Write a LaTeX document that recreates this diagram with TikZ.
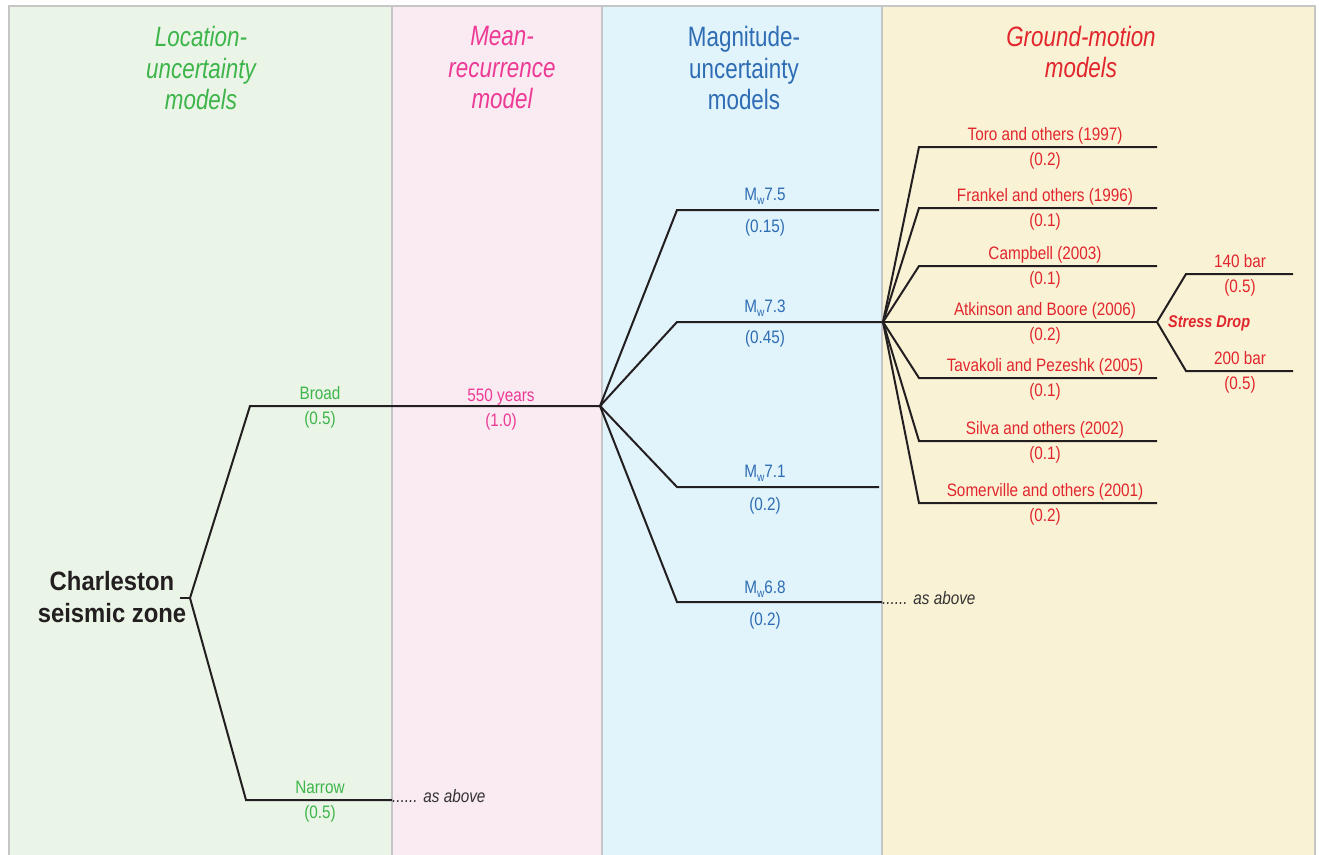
\documentclass[tikz,border=0pt]{standalone}
\usepackage{fontspec}
\setmainfont[FakeStretch=0.85]{Liberation Sans}
\newfontfamily\hdrfont[FakeStretch=0.8]{Liberation Sans}
\newfontfamily\rootfont[FakeStretch=0.9]{Liberation Sans}
\definecolor{pgreen}{HTML}{EBF5E7}
\definecolor{ppink}{HTML}{FAEAF2}
\definecolor{pblue}{HTML}{E1F3FB}
\definecolor{pyellow}{HTML}{FAF2D5}
\definecolor{bordc}{HTML}{C6C6C6}
\definecolor{tgreen}{HTML}{3DB54A}
\definecolor{tpink}{HTML}{EC3A95}
\definecolor{tblue}{HTML}{2E6DB4}
\definecolor{tred}{HTML}{E1262D}
\definecolor{tgray}{HTML}{333333}
\definecolor{linec}{HTML}{231F20}
\newcommand{\Mw}{M\raisebox{-4.5pt}{\fontsize{12}{12}\selectfont w}}
\tikzset{
  border/.style={draw=bordc, line width=2pt},
  tree/.style={draw=linec, line width=2pt, line join=miter},
  hdr/.style={font=\hdrfont\fontsize{28}{31.5}\selectfont, align=center, inner sep=0pt},
  lab/.style={font=\fontsize{18}{20}\selectfont, inner sep=0pt, anchor=base},
  more/.style={font=\fontsize{18}{20}\selectfont\itshape, text=tgray, inner sep=0pt, anchor=base west},
}
\begin{document}
\begin{tikzpicture}[x=1pt,y=-1pt]
\useasboundingbox (0,0) rectangle (1319,854);
\fill[white] (0,0) rectangle (1319,854);
% panels
\fill[pgreen] (9,6) rectangle (392,860);
\fill[ppink] (392,6) rectangle (602,860);
\fill[pblue] (602,6) rectangle (882,860);
\fill[pyellow] (882,6) rectangle (1315,860);
\draw[border] (9,860) -- (9,6) -- (1315,6) -- (1315,860);
\draw[border] (392,6) -- (392,860);
\draw[border] (602,6) -- (602,860);
\draw[border] (882,6) -- (882,860);
% headers
\node[hdr, text=tgreen, font=\hdrfont\fontsize{28}{31.5}\selectfont\itshape] (h1) at (201,68) {Location-\\uncertainty\\models};
\node[hdr, text=tpink, font=\hdrfont\fontsize{28}{31.5}\selectfont\itshape] (h2) at (502,68) {Mean-\\recurrence\\model};
\node[hdr, text=tblue] (h3) at (744,68) {Magnitude-\\uncertainty\\models};
\node[hdr, text=tred, font=\hdrfont\fontsize{28}{31.5}\selectfont\itshape] (h4) at (1081,52) {Ground-motion\\models};
% root
\node[font=\rootfont\fontsize{26.5}{32}\selectfont\bfseries, text=linec, align=center, inner sep=0pt] (root) at (112,597) {Charleston\\seismic zone};
% coordinates
\coordinate (r0) at (190,598);
\coordinate (rt) at (180,598);
\coordinate (bB) at (250,406); \coordinate (bBe) at (392,406);
\coordinate (bN) at (246,800); \coordinate (bNe) at (392,800);
\coordinate (m0) at (600,406);
\coordinate (m1) at (677,210); \coordinate (m1e) at (879,210);
\coordinate (m2) at (677,322); \coordinate (m2e) at (879,322);
\coordinate (m3) at (677,487); \coordinate (m3e) at (879,487);
\coordinate (m4) at (677,602); \coordinate (m4e) at (882,602);
\coordinate (g0) at (883,322);
\coordinate (g1) at (919,147); \coordinate (g1e) at (1157,147);
\coordinate (g2) at (919,208); \coordinate (g2e) at (1157,208);
\coordinate (g3) at (919,266); \coordinate (g3e) at (1157,266);
\coordinate (g4e) at (1157,322);
\coordinate (g5) at (919,378); \coordinate (g5e) at (1157,378);
\coordinate (g6) at (919,441); \coordinate (g6e) at (1157,441);
\coordinate (g7) at (919,503); \coordinate (g7e) at (1157,503);
\coordinate (s1) at (1186,274); \coordinate (s1e) at (1293,274);
\coordinate (s2) at (1186,371); \coordinate (s2e) at (1293,371);
% tree lines
\draw[tree] (rt) -- (r0);
\draw[tree] (r0) -- (bB) -- (bBe) -- (m0);
\draw[tree] (r0) -- (bN) -- (bNe);
\draw[tree] (m0) -- (m1) -- (m1e);
\draw[tree] (m0) -- (m2) -- (m2e) -- (g0);
\draw[tree] (m0) -- (m3) -- (m3e);
\draw[tree] (m0) -- (m4) -- (m4e);
\draw[tree] (g0) -- (g1) -- (g1e);
\draw[tree] (g0) -- (g2) -- (g2e);
\draw[tree] (g0) -- (g3) -- (g3e);
\draw[tree] (g0) -- (g4e);
\draw[tree] (g0) -- (g5) -- (g5e);
\draw[tree] (g0) -- (g6) -- (g6e);
\draw[tree] (g0) -- (g7) -- (g7e);
\draw[tree] (g4e) -- (s1) -- (s1e);
\draw[tree] (g4e) -- (s2) -- (s2e);
% location labels
\node[lab, text=tgreen] (lB) at (320,399) {Broad};
\node[lab, text=tgreen] (wB) at (320,424) {(0.5)};
\node[lab, text=tgreen] (lN) at (320,793) {Narrow};
\node[lab, text=tgreen] (wN) at (320,818) {(0.5)};
\node[more] (aN) at (392,802) {...... as above};
% recurrence
\node[lab, text=tpink] (lR) at (501,401) {550 years};
\node[lab, text=tpink] (wR) at (501,426) {(1.0)};
% magnitudes
\node[lab, text=tblue] (lM1) at (765,200) {\Mw7.5};
\node[lab, text=tblue] (wM1) at (765,232) {(0.15)};
\node[lab, text=tblue] (lM2) at (765,312) {\Mw7.3};
\node[lab, text=tblue] (wM2) at (765,343) {(0.45)};
\node[lab, text=tblue] (lM3) at (765,477) {\Mw7.1};
\node[lab, text=tblue] (wM3) at (765,510) {(0.2)};
\node[lab, text=tblue] (lM4) at (765,593) {\Mw6.8};
\node[lab, text=tblue] (wM4) at (765,625) {(0.2)};
\node[more] (aM) at (882,604) {...... as above};
% ground motion
\node[lab, text=tred] (lG1) at (1045,140) {Toro and others (1997)};
\node[lab, text=tred] (wG1) at (1045,165) {(0.2)};
\node[lab, text=tred] (lG2) at (1045,201) {Frankel and others (1996)};
\node[lab, text=tred] (wG2) at (1045,226) {(0.1)};
\node[lab, text=tred] (lG3) at (1045,259) {Campbell (2003)};
\node[lab, text=tred] (wG3) at (1045,284) {(0.1)};
\node[lab, text=tred] (lG4) at (1045,315) {Atkinson and Boore (2006)};
\node[lab, text=tred] (wG4) at (1045,340) {(0.2)};
\node[lab, text=tred] (lG5) at (1045,371) {Tavakoli and Pezeshk (2005)};
\node[lab, text=tred] (wG5) at (1045,396) {(0.1)};
\node[lab, text=tred] (lG6) at (1045,434) {Silva and others (2002)};
\node[lab, text=tred] (wG6) at (1045,459) {(0.1)};
\node[lab, text=tred] (lG7) at (1045,496) {Somerville and others (2001)};
\node[lab, text=tred] (wG7) at (1045,521) {(0.2)};
% stress drop
\node[lab, text=tred, anchor=base west, font=\fontsize{17}{20}\selectfont\bfseries\itshape] (sd) at (1168,327) {Stress Drop};
\node[lab, text=tred] (lS1) at (1240,267) {140 bar};
\node[lab, text=tred] (wS1) at (1240,292) {(0.5)};
\node[lab, text=tred] (lS2) at (1240,364) {200 bar};
\node[lab, text=tred] (wS2) at (1240,389) {(0.5)};
\end{tikzpicture}
\end{document}
